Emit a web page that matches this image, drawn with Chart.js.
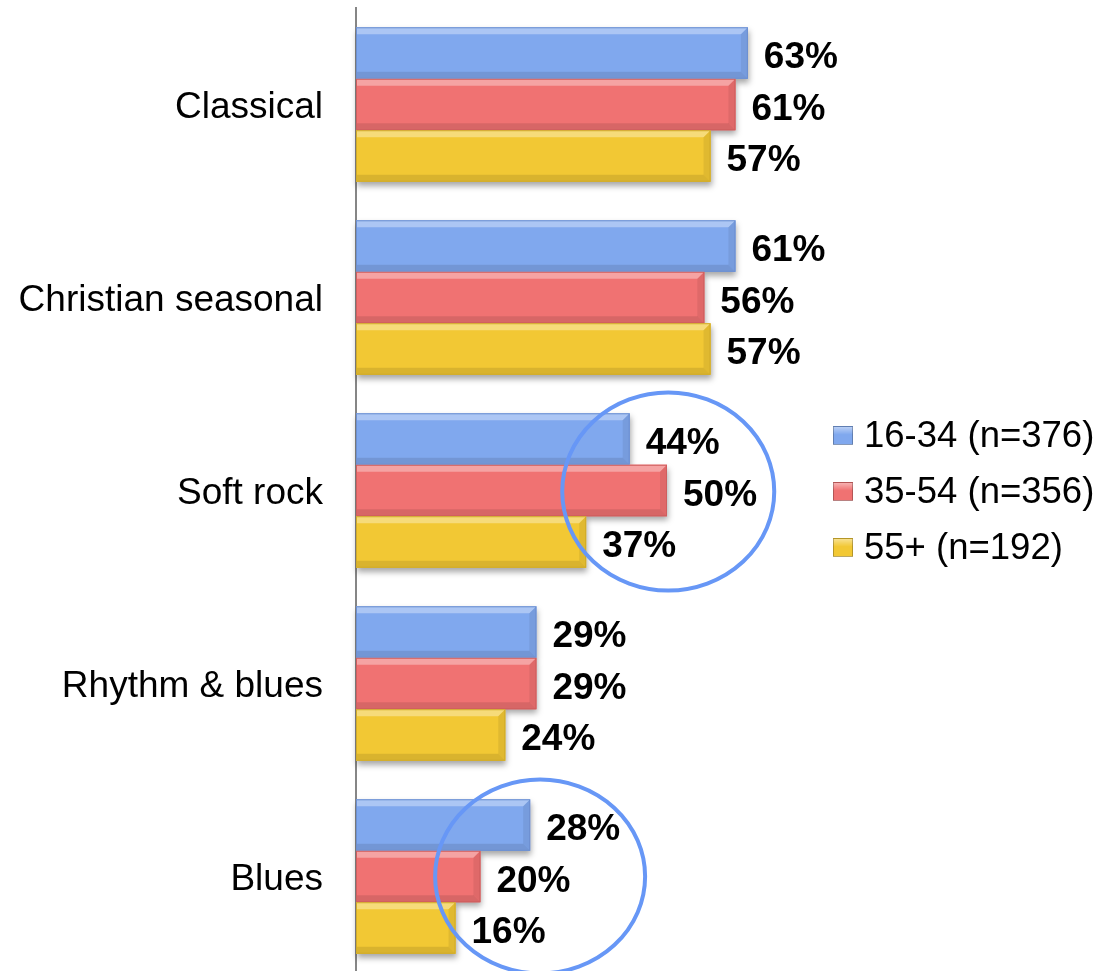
<!DOCTYPE html>
<html><head><meta charset="utf-8">
<script src="https://cdn.jsdelivr.net/npm/chart.js@4/dist/chart.umd.min.js"></script>
<style>
html,body{margin:0;padding:0;background:#fff;overflow:hidden;width:1117px;height:971px;}
#wrap{position:relative;width:1117px;height:973px;}
#c{position:absolute;left:0;top:0;}
#legend{position:absolute;left:833px;top:407px;font-family:'Liberation Sans',Arial,sans-serif;font-size:36.5px;color:#000;}
.item{display:flex;align-items:center;height:56px;white-space:nowrap;}
.box{width:20px;height:19px;margin-right:11px;box-sizing:border-box;border:1px solid rgba(0,0,0,0.25);}
</style>
</head><body>
<div id="wrap"><canvas id="c" width="1117" height="973"></canvas><div id="legend"></div></div>
<script>
const categories = ['Classical', 'Christian seasonal', 'Soft rock', 'Rhythm & blues', 'Blues'];
const seriesNames = ['16-34 (n=376)', '35-54 (n=356)', '55+ (n=192)'];
const age16to34 = [63, 61, 44, 29, 28];
const age35to54 = [61, 56, 50, 29, 20];
const age55plus = [57, 57, 37, 24, 16];
const highlights = [
  {category: 'Soft rock', xValue: 50.2, rx: 106, ry: 99, dy: 1},
  {category: 'Blues', xValue: 29.6, rx: 105, ry: 97, dy: 0}
];

const colors = ['#80A8EE', '#F07272', '#F2C834'];
const borders = ['#6C8FD0', '#CF5E5E', '#D1AB28'];
const FONT = "'Liberation Sans', Arial, sans-serif";

const leg = document.getElementById('legend');
seriesNames.forEach((n, i) => {
  const d = document.createElement('div'); d.className = 'item';
  const b = document.createElement('span'); b.className = 'box';
  b.style.backgroundColor = colors[i];
  b.style.backgroundImage = 'linear-gradient(180deg, rgba(255,255,255,0.45) 0%, rgba(255,255,255,0) 45%)';
  const t = document.createElement('span'); t.textContent = n;
  d.appendChild(b); d.appendChild(t); leg.appendChild(d);
});

const bevelPlugin = {
  id: 'bevel',
  beforeDatasetsDraw(chart) {
    const ctx = chart.ctx;
    ctx.save();
    chart.data.datasets.forEach((ds, di) => {
      chart.getDatasetMeta(di).data.forEach(bar => {
        const h = bar.height, top = bar.y - h / 2;
        ctx.shadowColor = 'rgba(0,0,0,0.35)';
        ctx.shadowBlur = 6;
        ctx.shadowOffsetY = 4;
        ctx.shadowOffsetX = 1;
        ctx.fillStyle = colors[di];
        ctx.fillRect(bar.base, top, bar.x - bar.base, h);
      });
    });
    ctx.restore();
  },
  afterDatasetsDraw(chart) {
    const ctx = chart.ctx;
    ctx.save();
    const b = 7;
    chart.data.datasets.forEach((ds, di) => {
      chart.getDatasetMeta(di).data.forEach(bar => {
        const l = bar.base + 1, r = bar.x, t = bar.y - bar.height / 2, btm = bar.y + bar.height / 2;
        ctx.fillStyle = 'rgba(255,255,255,0.35)';
        ctx.beginPath(); ctx.moveTo(l, t); ctx.lineTo(r, t); ctx.lineTo(r - b, t + b); ctx.lineTo(l, t + b); ctx.closePath(); ctx.fill();
        ctx.fillStyle = 'rgba(0,0,0,0.10)';
        ctx.beginPath(); ctx.moveTo(l, btm); ctx.lineTo(r, btm); ctx.lineTo(r - b, btm - b); ctx.lineTo(l, btm - b); ctx.closePath(); ctx.fill();
        ctx.fillStyle = 'rgba(0,0,0,0.07)';
        ctx.beginPath(); ctx.moveTo(r, t); ctx.lineTo(r, btm); ctx.lineTo(r - b, btm - b); ctx.lineTo(r - b, t + b); ctx.closePath(); ctx.fill();
        ctx.strokeStyle = borders[di]; ctx.lineWidth = 1;
        ctx.strokeRect(l - 0.5, t + 0.5, r - l, bar.height - 1);
      });
    });
    ctx.fillStyle = '#000';
    ctx.font = 'bold 37px ' + FONT;
    ctx.textAlign = 'left';
    ctx.textBaseline = 'middle';
    chart.data.datasets.forEach((ds, di) => {
      chart.getDatasetMeta(di).data.forEach((bar, i) => {
        ctx.fillText(ds.data[i] + '%', bar.x + 16, bar.y + 5);
      });
    });
    const xs = chart.scales.x, ys = chart.scales.y;
    ctx.strokeStyle = '#6797F6';
    ctx.lineWidth = 4;
    highlights.forEach(hl => {
      const cx = xs.getPixelForValue(hl.xValue);
      const cy = ys.getPixelForValue(categories.indexOf(hl.category)) + hl.dy;
      ctx.beginPath(); ctx.ellipse(cx, cy, hl.rx, hl.ry, 0, 0, Math.PI * 2); ctx.stroke();
    });
    ctx.restore();
  }
};

new Chart(document.getElementById('c'), {
  type: 'bar',
  data: {
    labels: categories,
    datasets: [
      {label: seriesNames[0], data: age16to34, backgroundColor: colors[0]},
      {label: seriesNames[1], data: age35to54, backgroundColor: colors[1]},
      {label: seriesNames[2], data: age55plus, backgroundColor: colors[2]}
    ]
  },
  options: {
    indexAxis: 'y',
    responsive: false,
    animation: false,
    devicePixelRatio: 1,
    layout: {padding: {top: 8, bottom: 0, left: 0, right: 139}},
    datasets: {bar: {categoryPercentage: 0.8, barPercentage: 1.0}},
    plugins: {legend: {display: false}, tooltip: {enabled: false}},
    scales: {
      x: {display: false, min: 0, max: 100},
      y: {
        afterFit(s) { s.width = 356; s.paddingTop = 0; s.paddingBottom = 0; },
        grid: {display: true, drawOnChartArea: false, drawTicks: false, color: 'rgba(0,0,0,0)'},
        border: {display: true, color: '#868686', width: 2},
        ticks: {padding: 33, labelOffset: 3, color: '#000', font: {family: FONT, size: 37}}
      }
    }
  },
  plugins: [bevelPlugin]
});
</script>
</body></html>
